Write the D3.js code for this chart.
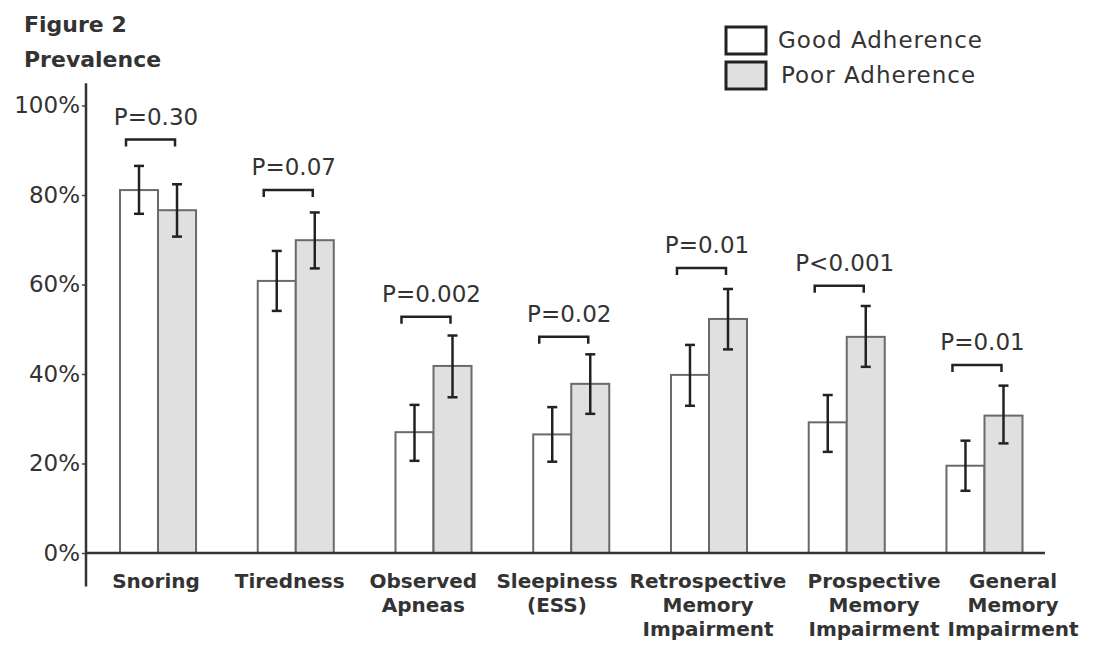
<!DOCTYPE html>
<html>
<head>
<meta charset="utf-8">
<script src="https://cdn.jsdelivr.net/npm/d3@7"></script>
<style>
  body { margin: 0; background: #fff; }
  text { font-family: "DejaVu Sans", sans-serif; fill: #333; }
</style>
</head>
<body>
<div id="chart"></div>
<script>
// Data
// ============================================================================
const categories = ["Snoring", "Tiredness", "Observed Apneas", "Sleepiness (ESS)",
    "Retrospective Memory Impairment", "Prospective Memory Impairment", "General Memory Impairment"];
const labelLines = [["Snoring"], ["Tiredness"], ["Observed", "Apneas"], ["Sleepiness", "(ESS)"],
    ["Retrospective", "Memory", "Impairment"], ["Prospective", "Memory", "Impairment"], ["General", "Memory", "Impairment"]];
const series = ["Good Adherence", "Poor Adherence"];

const good = [81.1, 60.8, 27.0, 26.5, 39.8, 29.2, 19.5];
const goodHi = [86.5, 67.5, 33.1, 32.6, 46.5, 35.3, 25.1];
const goodLo = [75.8, 54.1, 20.6, 20.4, 32.9, 22.6, 13.9];
const poor = [76.6, 69.9, 41.8, 37.8, 52.3, 48.3, 30.7];
const poorHi = [82.4, 76.1, 48.6, 44.4, 59.0, 55.2, 37.4];
const poorLo = [70.7, 63.6, 34.8, 31.1, 45.5, 41.6, 24.5];
const bracketLevel = [92.4, 81.1, 52.8, 48.3, 63.7, 59.7, 42.0];
const pLabels = ["P=0.30", "P=0.07", "P=0.002", "P=0.02", "P=0.01", "P<0.001", "P=0.01"];
const yTicks = [0, 20, 40, 60, 80, 100];

const width = 1099, height = 647;
const fills = {"Good Adherence": "#ffffff", "Poor Adherence": "#e0e0e0"};

// Setup
// ============================================================================
const svg = d3.select("#chart").append("svg")
    .attr("width", width)
    .attr("height", height);

const y = d3.scaleLinear().domain([0, 100]).range([553, 105.5]);

const x0 = d3.scaleBand()
    .domain(categories)
    .range([120, 1022.5])
    .paddingInner(0.448)
    .paddingOuter(0);

const x1 = d3.scaleBand()
    .domain(series)
    .range([0, x0.bandwidth()]);

// labels under the axis are spaced a bit unevenly in the original
const xLabel = d3.scaleLinear()
    .domain([0, 3, 4, 5, 6])
    .range([156, 557, 708, 874, 1013]);

const rows = categories.map((c, i) => ({
    cat: c,
    bars: [
        {s: series[0], v: good[i], hi: goodHi[i], lo: goodLo[i]},
        {s: series[1], v: poor[i], hi: poorHi[i], lo: poorLo[i]},
    ],
    bracket: bracketLevel[i],
    p: pLabels[i],
}));

// Title
// ============================================================================
svg.append("text")
    .attr("x", 24).attr("y", 32)
    .style("font-weight", "bold").style("font-size", "22px")
    .text("Figure 2");
svg.append("text")
    .attr("x", 24).attr("y", 67)
    .style("font-weight", "bold").style("font-size", "22px")
    .text("Prevalence");

// Bars
// ============================================================================
const groups = svg.selectAll(".grp")
    .data(rows)
    .enter()
    .append("g")
        .attr("class", "grp")
        .attr("transform", d => "translate(" + x0(d.cat) + ",0)");

groups.selectAll("rect")
    .data(d => d.bars)
    .enter()
    .append("rect")
        .attr("x", d => x1(d.s))
        .attr("width", x1.bandwidth())
        .attr("y", d => y(d.v))
        .attr("height", d => y(0) - y(d.v))
        .attr("fill", d => fills[d.s])
        .attr("stroke", "#6a6a6a")
        .attr("stroke-width", 2);

// Error bars
const err = groups.selectAll(".err")
    .data(d => d.bars)
    .enter()
    .append("g")
        .attr("class", "err")
        .attr("stroke", "#222")
        .attr("stroke-width", 2.5);

err.append("line")
    .attr("x1", d => x1(d.s) + x1.bandwidth() / 2)
    .attr("x2", d => x1(d.s) + x1.bandwidth() / 2)
    .attr("y1", d => y(d.hi))
    .attr("y2", d => y(d.lo));
err.append("line")
    .attr("x1", d => x1(d.s) + x1.bandwidth() / 2 - 5)
    .attr("x2", d => x1(d.s) + x1.bandwidth() / 2 + 5)
    .attr("y1", d => y(d.hi))
    .attr("y2", d => y(d.hi));
err.append("line")
    .attr("x1", d => x1(d.s) + x1.bandwidth() / 2 - 5)
    .attr("x2", d => x1(d.s) + x1.bandwidth() / 2 + 5)
    .attr("y1", d => y(d.lo))
    .attr("y2", d => y(d.lo));

// Significance brackets
groups.append("path")
    .attr("fill", "none")
    .attr("stroke", "#222")
    .attr("stroke-width", 2.5)
    .attr("d", d => {
        const a = x1(series[0]) + 6, b = x1(series[1]) + 17, yy = y(d.bracket);
        return "M" + a + "," + (yy + 7) + "V" + yy + "H" + b + "V" + (yy + 7);
    });

groups.append("text")
    .attr("x", x1(series[1]) - 2)
    .attr("y", d => y(d.bracket) - 15)
    .attr("text-anchor", "middle")
    .style("font-size", "23px")
    .text(d => d.p);

// Axes
// ============================================================================
const yAxis = svg.append("g")
    .attr("transform", "translate(86,0)")
    .call(d3.axisLeft(y).tickValues(yTicks).tickSize(4).tickPadding(2).tickFormat(d => d + "%"));
yAxis.select(".domain").remove();
yAxis.selectAll(".tick line").attr("stroke", "#444").attr("stroke-width", 1.5);
yAxis.selectAll(".tick text")
    .style("font-size", "23px")
    .style("font-family", "'DejaVu Sans', sans-serif")
    .attr("fill", "#333");

svg.append("line")
    .attr("x1", 86).attr("x2", 86)
    .attr("y1", y(105)).attr("y2", y(-7.5))
    .attr("stroke", "#333").attr("stroke-width", 2.5);

svg.append("line")
    .attr("x1", 85).attr("x2", 1045)
    .attr("y1", y(0)).attr("y2", y(0))
    .attr("stroke", "#333").attr("stroke-width", 2.5);

// Category labels
svg.selectAll(".cat")
    .data(categories)
    .enter()
    .append("text")
        .attr("class", "cat")
        .attr("text-anchor", "middle")
        .style("font-weight", "bold")
        .style("font-size", "20px")
        .each(function(c, i) {
            const t = d3.select(this);
            labelLines[i].forEach((ln, j) => {
                t.append("tspan")
                    .attr("x", xLabel(i))
                    .attr("y", 588 + j * 24)
                    .text(ln);
            });
        });

// Legend
// ============================================================================
series.forEach((s, i) => {
    svg.append("rect")
        .attr("x", 726)
        .attr("y", 27 + i * 35)
        .attr("width", 40)
        .attr("height", 27)
        .attr("fill", fills[s])
        .attr("stroke", "#222")
        .attr("stroke-width", 3);
    svg.append("text")
        .attr("x", 778 + i * 3)
        .attr("y", 48 + i * 35)
        .style("font-size", "23px")
        .style("letter-spacing", "1px")
        .text(s);
});
</script>
</body>
</html>
